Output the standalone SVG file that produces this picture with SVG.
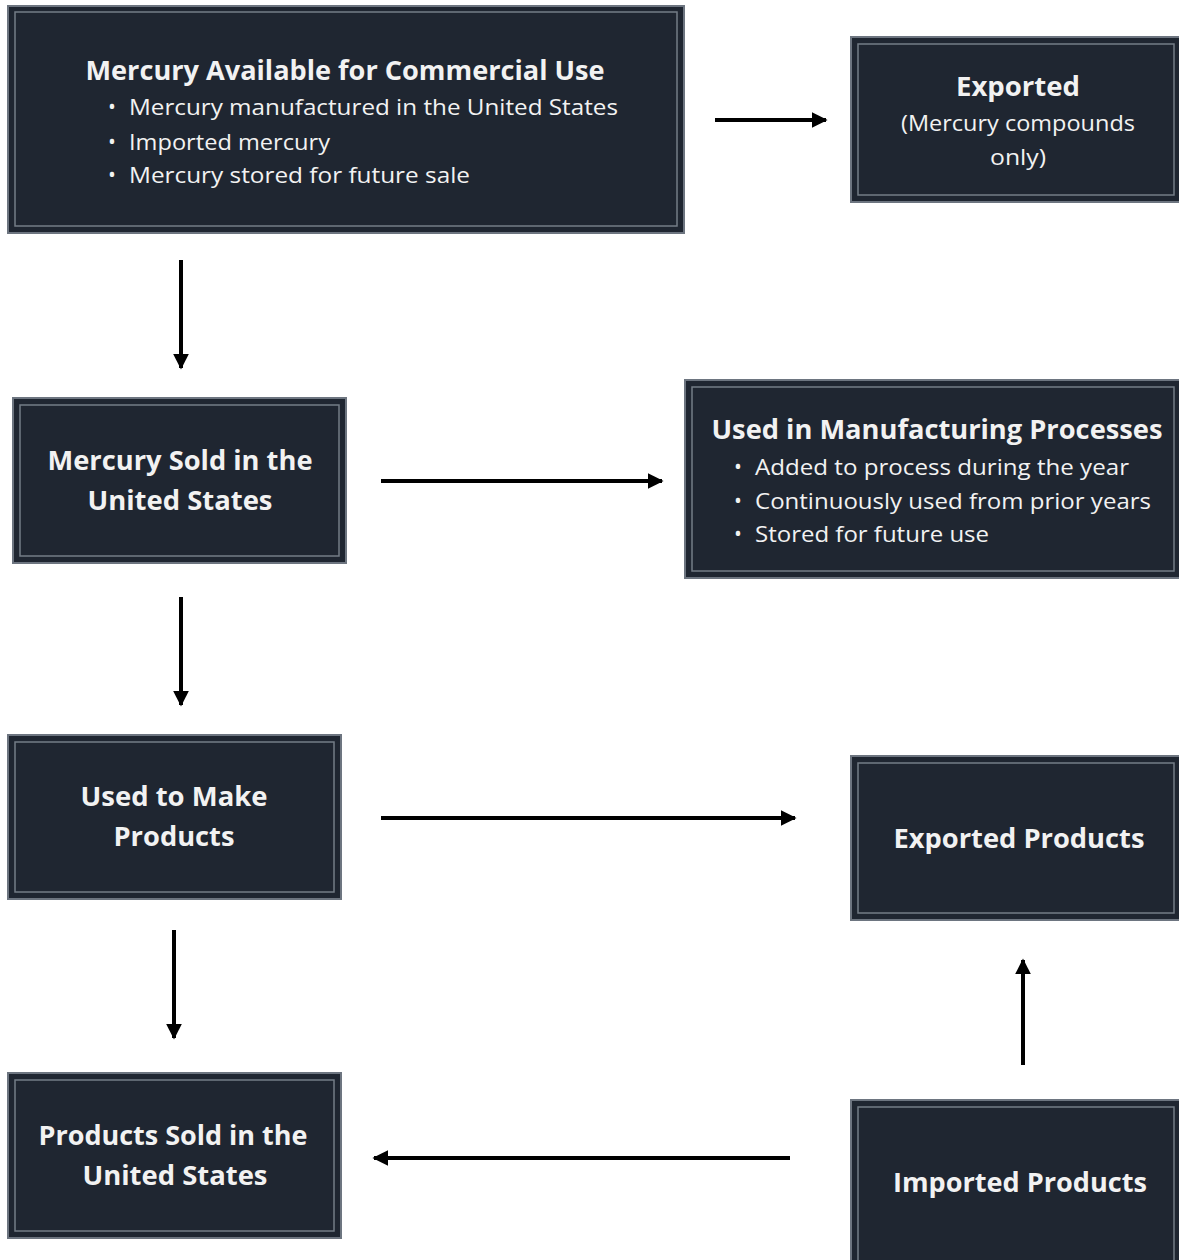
<svg xmlns="http://www.w3.org/2000/svg" width="1179" height="1260" viewBox="0 0 1179 1260">
<defs>
<style>
.box{fill:#1f2631;stroke:#6d7580;stroke-width:2}
.inner{fill:none;stroke:#8a929c;stroke-width:1.5;opacity:0.8}
.t{font-family:"Open Sans","Noto Sans","Liberation Sans",sans-serif;fill:#f2f2f2}
.h{font-weight:bold;font-size:26px}
.b{font-size:21px}
.c{text-anchor:middle}
.ln{stroke:#000;stroke-width:4;fill:none}
</style>
<marker id="ah" viewBox="0 0 10 10" refX="9" refY="5" markerWidth="4" markerHeight="4" orient="auto" markerUnits="strokeWidth">
<path d="M0,0 L10,5 L0,10 z" fill="#000"/>
</marker>
</defs>
<rect width="1179" height="1260" fill="#fff"/>
<g id="connectors">
<line class="ln" x1="715" y1="120" x2="826" y2="120" marker-end="url(#ah)"/>
<line class="ln" x1="181" y1="260" x2="181" y2="368" marker-end="url(#ah)"/>
<line class="ln" x1="381" y1="481" x2="662" y2="481" marker-end="url(#ah)"/>
<line class="ln" x1="181" y1="597" x2="181" y2="705" marker-end="url(#ah)"/>
<line class="ln" x1="381" y1="818" x2="795" y2="818" marker-end="url(#ah)"/>
<line class="ln" x1="174" y1="930" x2="174" y2="1038" marker-end="url(#ah)"/>
<line class="ln" x1="790" y1="1158" x2="374" y2="1158" marker-end="url(#ah)"/>
<line class="ln" x1="1023" y1="1065" x2="1023" y2="960" marker-end="url(#ah)"/>
</g>
<g id="available">
<rect class="box" x="8" y="6" width="676" height="227"/>
<rect class="inner" x="15" y="12" width="662" height="214"/>
<text class="t h c" x="345" y="80" textLength="519" lengthAdjust="spacingAndGlyphs">Mercury Available for Commercial Use</text>
<text class="t b" x="108" y="114">•</text>
<text class="t b" x="129" y="115" textLength="489" lengthAdjust="spacingAndGlyphs">Mercury manufactured in the United States</text>
<text class="t b" x="108" y="149">•</text>
<text class="t b" x="129" y="150" textLength="201" lengthAdjust="spacingAndGlyphs">Imported mercury</text>
<text class="t b" x="108" y="182">•</text>
<text class="t b" x="129" y="183" textLength="341" lengthAdjust="spacingAndGlyphs">Mercury stored for future sale</text>
</g>
<g id="exported">
<rect class="box" x="851" y="37" width="330" height="165"/>
<rect class="inner" x="858" y="44" width="316" height="151"/>
<text class="t h c" x="1018" y="96" textLength="124" lengthAdjust="spacingAndGlyphs">Exported</text>
<text class="t b c" x="1018" y="131" textLength="234" lengthAdjust="spacingAndGlyphs">(Mercury compounds</text>
<text class="t b c" x="1018" y="165" textLength="56" lengthAdjust="spacingAndGlyphs">only)</text>
</g>
<g id="sold">
<rect class="box" x="13" y="398" width="333" height="165"/>
<rect class="inner" x="20" y="405" width="319" height="151"/>
<text class="t h c" x="180" y="470" textLength="265" lengthAdjust="spacingAndGlyphs">Mercury Sold in the</text>
<text class="t h c" x="180" y="510" textLength="185" lengthAdjust="spacingAndGlyphs">United States</text>
</g>
<g id="manufacturing">
<rect class="box" x="685" y="380" width="496" height="198"/>
<rect class="inner" x="692" y="387" width="482" height="184"/>
<text class="t h c" x="937" y="439" textLength="451" lengthAdjust="spacingAndGlyphs">Used in Manufacturing Processes</text>
<text class="t b" x="734" y="474">•</text>
<text class="t b" x="755" y="475" textLength="374" lengthAdjust="spacingAndGlyphs">Added to process during the year</text>
<text class="t b" x="734" y="508">•</text>
<text class="t b" x="755" y="509" textLength="396" lengthAdjust="spacingAndGlyphs">Continuously used from prior years</text>
<text class="t b" x="734" y="541">•</text>
<text class="t b" x="755" y="542" textLength="234" lengthAdjust="spacingAndGlyphs">Stored for future use</text>
</g>
<g id="make">
<rect class="box" x="8" y="735" width="333" height="164"/>
<rect class="inner" x="15" y="742" width="319" height="150"/>
<text class="t h c" x="174" y="806" textLength="187" lengthAdjust="spacingAndGlyphs">Used to Make</text>
<text class="t h c" x="174" y="846" textLength="121" lengthAdjust="spacingAndGlyphs">Products</text>
</g>
<g id="exportedProducts">
<rect class="box" x="851" y="756" width="330" height="164"/>
<rect class="inner" x="858" y="763" width="316" height="150"/>
<text class="t h c" x="1019" y="848" textLength="251" lengthAdjust="spacingAndGlyphs">Exported Products</text>
</g>
<g id="productsSold">
<rect class="box" x="8" y="1073" width="333" height="165"/>
<rect class="inner" x="15" y="1080" width="319" height="151"/>
<text class="t h c" x="173" y="1145" textLength="269" lengthAdjust="spacingAndGlyphs">Products Sold in the</text>
<text class="t h c" x="175" y="1185" textLength="185" lengthAdjust="spacingAndGlyphs">United States</text>
</g>
<g id="imported">
<rect class="box" x="851" y="1100" width="330" height="165"/>
<rect class="inner" x="858" y="1107" width="316" height="160"/>
<text class="t h c" x="1020" y="1192" textLength="254" lengthAdjust="spacingAndGlyphs">Imported Products</text>
</g>
</svg>
